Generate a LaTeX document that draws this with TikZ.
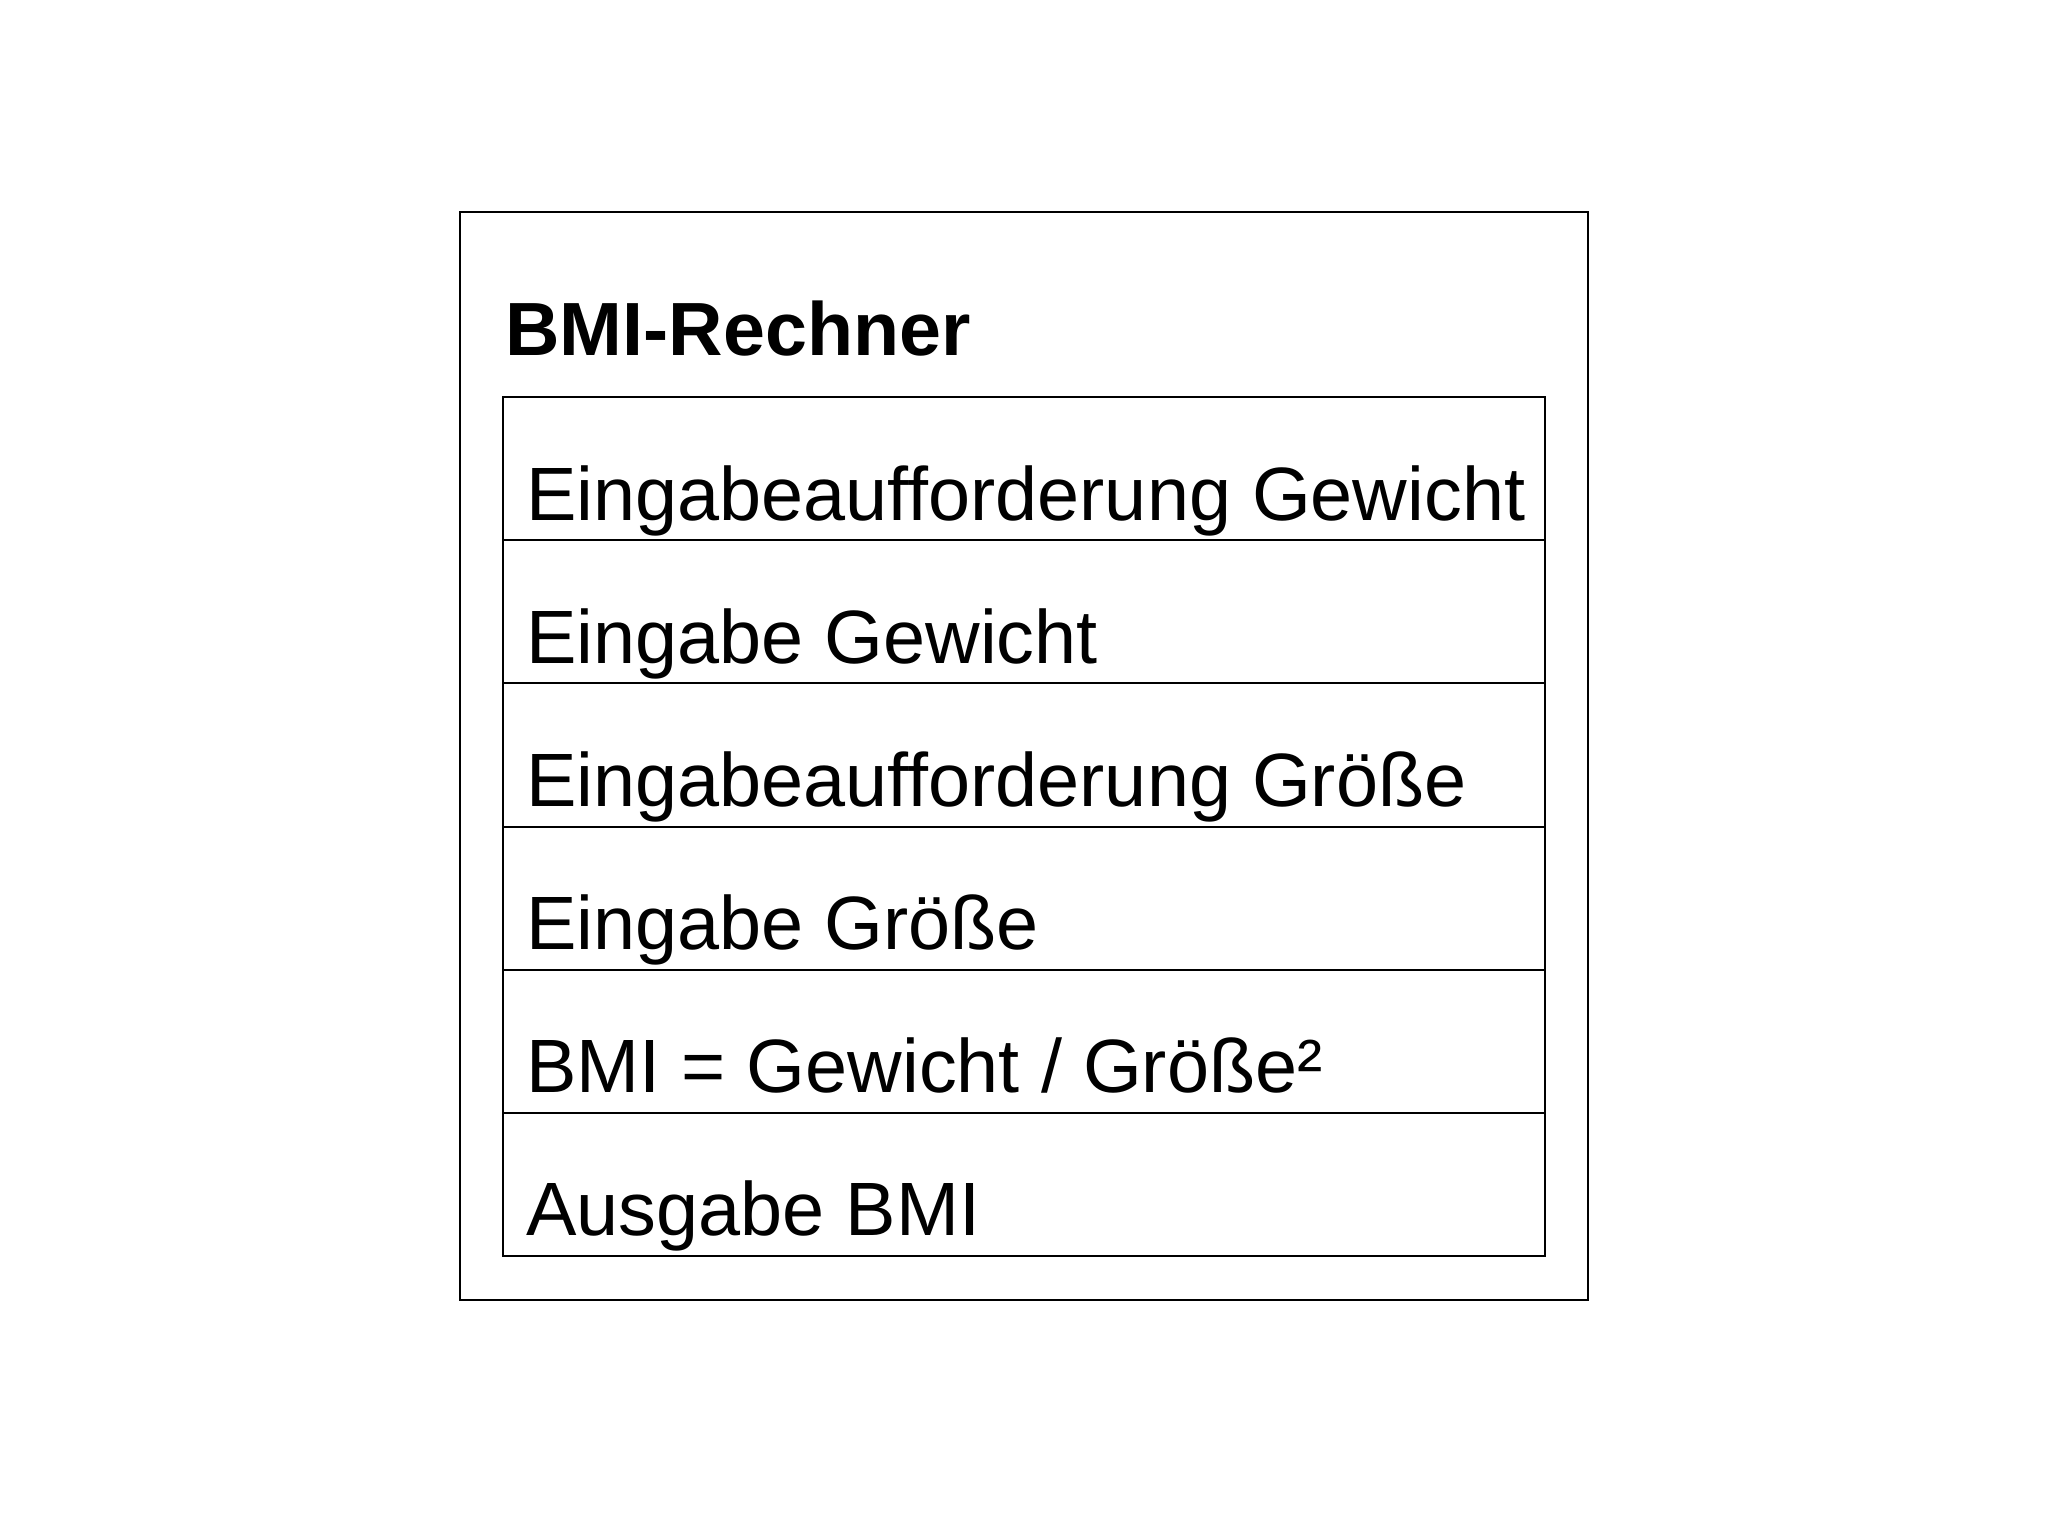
\documentclass[tikz,border=0pt]{standalone}
\usepackage{fontspec}
\setmainfont{Liberation Sans}[Ligatures=NoCommon]
\begin{document}
\begin{tikzpicture}[x=0.5pt,y=-0.5pt,
  frame/.style={draw=black,line width=1pt,inner sep=0pt,outer sep=0pt,anchor=north west},
  rowbox/.style={frame,minimum width=521pt,minimum height=71.58pt},
  rowtext/.style={anchor=base west,inner sep=0pt,font=\fontsize{37.8}{45}\selectfont},
  titletext/.style={anchor=base west,inner sep=0pt,font=\fontsize{37.7}{45}\selectfont\bfseries}]
\useasboundingbox (0,0) rectangle (2048,1536);
\node[frame,minimum width=564pt,minimum height=544pt] (outer) at (460,212) {};
\node[titletext] (title) at (505,355) {BMI-Rechner};
\foreach \i/\t [count=\k from 0] in {1/{Eingabeaufforderung Gewicht},2/{Eingabe Gewicht},3/{Eingabeaufforderung Größe},4/{Eingabe Größe},5/{BMI = Gewicht / Größe²},6/{Ausgabe BMI}}{
  \node[rowbox] (r\i) at (503,{397+\k*143.17}) {};
  \node[rowtext] (t\i) at ([xshift=11.5pt,yshift=-61.5pt]r\i.north west) {\t};
}
\end{tikzpicture}
\end{document}
